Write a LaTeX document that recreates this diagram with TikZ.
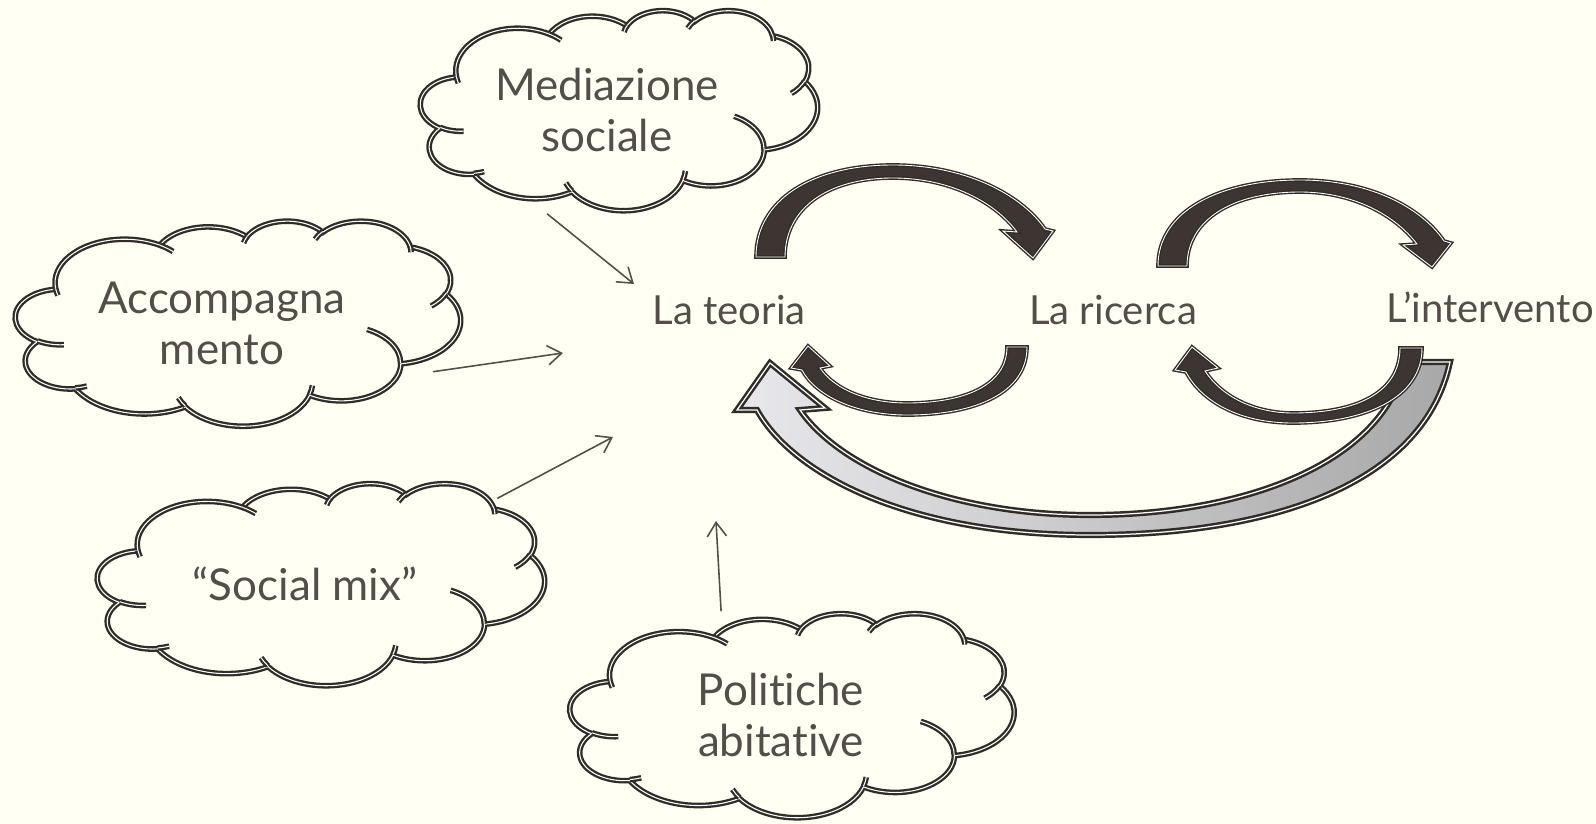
\documentclass[tikz,border=0pt]{standalone}
\usepackage{fontspec}
\setmainfont{Lato}[Ligatures=NoCommon]
\usetikzlibrary{arrows.meta,shapes.geometric}

\definecolor{bgcream}{RGB}{255,255,243}
\definecolor{inkdark}{RGB}{50,44,41}
\definecolor{arrowfill}{RGB}{60,53,50}
\definecolor{textgray}{RGB}{84,78,74}
\definecolor{graylight}{RGB}{232,232,236}
\definecolor{graydark}{RGB}{168,168,168}

% cloud outline round a node: node, x offset, width, height (in px)
\newcommand{\drawcloud}[4]{%
  \begin{scope}[shift={(#1.center)}, xshift=#2*0.01cm, xscale=#3/432, yscale=#4/432]
    \draw[cloudline] (-177.00,-72.30)
      arc[start angle=172.25, end angle=300.37, x radius=67.53, y radius=91.90]
      arc[start angle=-152.02, end angle=-45.44, x radius=53.33, y radius=72.67]
      arc[start angle=-153.51, end angle=-37.32, x radius=43.65, y radius=59.45]
      arc[start angle=-139.72, end angle=-10.21, x radius=48.57, y radius=65.95]
      arc[start angle=-74.77, end angle=23.21, x radius=53.33, y radius=72.73]
      arc[start angle=-37.52, end angle=81.86, x radius=67.75, y radius=92.20]
      arc[start angle=0.46, end angle=121.98, x radius=57.85, y radius=78.67]
      arc[start angle=16.84, end angle=146.22, x radius=67.52, y radius=92.15]
      arc[start angle=58.98, end angle=150.20, x radius=77.20, y radius=105.43]
      arc[start angle=83.31, end angle=223.12, x radius=43.60, y radius=59.18]
      arc[start angle=120.36, end angle=264.11, x radius=43.45, y radius=59.45]
      -- cycle;
    \draw[cloudline]
      (-169.07,45.77) arc[start angle=85.54, end angle=120.36, x radius=43.45, y radius=59.45]
      (-146.72,132.99) arc[start angle=68.23, end angle=83.31, x radius=43.60, y radius=59.18]
      (-51.22,174.90) arc[start angle=146.22, end angle=158.48, x radius=67.52, y radius=92.15]
      (72.27,131.51) arc[start angle=4.74, end angle=16.84, x radius=67.52, y radius=92.15]
      (125.29,13.54) arc[start angle=-64.03, end angle=0.46, x radius=57.85, y radius=78.67]
      (201.98,-62.46) arc[start angle=23.21, end angle=49.64, x radius=53.33, y radius=72.73]
      (167.24,-161.74) arc[start angle=-10.21, end angle=0.82, x radius=48.57, y radius=65.95]
      (74.78,-176.48) arc[start angle=-156.29, end angle=-139.72, x radius=48.57, y radius=65.95]
      (5.41,-168.80) arc[start angle=-167.72, end angle=-153.51, x radius=43.65, y radius=59.45]
      (-76.00,-164.08) arc[start angle=-59.63, end angle=-45.74, x radius=67.53, y radius=91.90]
      (-174.73,-58.11) arc[start angle=163.19, end angle=172.25, x radius=67.53, y radius=91.90];
  \end{scope}}

\begin{document}
\begin{tikzpicture}[x=0.01cm, y=-0.01cm,
  cloudline/.style={draw=inkdark, line width=0.65pt, double=white, double distance=0.3pt},
  cloudnode/.style={ellipse, inner sep=0pt, minimum width=4.72cm, minimum height=2.13cm,
    align=center, text=textgray, font=\fontsize{12.5}{14.5}\selectfont},
  steplabel/.style={anchor=base, inner sep=0pt, text=textgray, font=\fontsize{11.4}{13}\selectfont},
  bendarrow/.style={fill=arrowfill, draw=inkdark, line width=0.4pt, double=white, double distance=0.25pt},
  backarrow/.style={left color=graylight, right color=graydark, draw=inkdark, line width=0.7pt,
    double=white, double distance=0.35pt},
  feed/.style={draw=textgray, line width=0.45pt, -{Straight Barb[length=4pt, width=5.5pt]}}]

\fill[bgcream] (0,0) rectangle (1596,824);
\useasboundingbox (0,0) rectangle (1596,824);

% the three steps
\node[steplabel] (teoria) at (729,324) {La teoria};
\node[steplabel] (ricerca) at (1113,324) {La ricerca};
\node[steplabel] (intervento) at (1490,322) {L’intervento};

% the clouds
\node[cloudnode] (med) at (607,110) {Mediazione\\sociale};
\node[cloudnode] (acc) at (222,323) {Accompagna\\mento};
\node[cloudnode, minimum width=5.44cm, minimum height=2.4cm] (mix) at (305,584) {“Social mix”};
\node[cloudnode] (pol) at (781,715) {Politiche\\abitative};

\drawcloud{med}{12}{397}{200}
\drawcloud{acc}{16}{445}{205}
\drawcloud{mix}{16}{447}{202}
\drawcloud{pol}{11}{444}{204}

% big return arrow
\draw[backarrow] (1450,362) .. controls (1425,480) and (1280,535) .. (1090,535)
  .. controls (900,535) and (790,470) .. (757,410) -- (737,410) -- (770,363) -- (825,408) -- (800,410)
  .. controls (840,468) and (950,515) .. (1090,515) .. controls (1250,515) and (1385,460) .. (1405,362) -- cycle;

% forward arrows
\draw[bendarrow] (756,257) .. controls (756,200) and (812,165) .. (893,165)
  .. controls (963,165) and (1020,193) .. (1045,229) -- (1053,231) -- (1033,258) -- (1003,231) -- (1017,232)
  .. controls (995,202) and (950,178) .. (893,178) .. controls (828,178) and (785,208) .. (785,257) -- cycle;
\draw[bendarrow] (1158,266) .. controls (1158,212) and (1218,180) .. (1300,180)
  .. controls (1368,180) and (1420,206) .. (1444,241) -- (1451,243) -- (1432,267) -- (1403,245) -- (1417,244)
  .. controls (1395,215) and (1353,192) .. (1300,192) .. controls (1232,192) and (1187,220) .. (1187,266) -- cycle;

% backward arrows
\draw[bendarrow] (1027,347) .. controls (1027,393) and (975,415) .. (907,415)
  .. controls (855,415) and (815,395) .. (802,370) -- (791,368) -- (808,346) -- (830,366) -- (820,368)
  .. controls (835,390) and (868,403) .. (907,403) .. controls (965,403) and (1007,385) .. (1007,347) -- cycle;
\draw[bendarrow] (1422,348) .. controls (1422,398) and (1365,423) .. (1293,423)
  .. controls (1240,423) and (1202,402) .. (1186,372) -- (1175,370) -- (1192,347) -- (1218,368) -- (1205,371)
  .. controls (1222,397) and (1255,413) .. (1293,413) .. controls (1358,413) and (1400,392) .. (1400,348) -- cycle;

% inputs to the theory
\coordinate (in1) at (634,284);
\coordinate (in2) at (563,353);
\coordinate (in3) at (613,437);
\coordinate (in4) at (716,521);
\draw[feed] (med.240) -- (in1);
\draw[feed] (acc.347) -- (in2);
\draw[feed] (mix.24) -- (in3);
\draw[feed] (pol.120) -- (in4);

\end{tikzpicture}
\end{document}
